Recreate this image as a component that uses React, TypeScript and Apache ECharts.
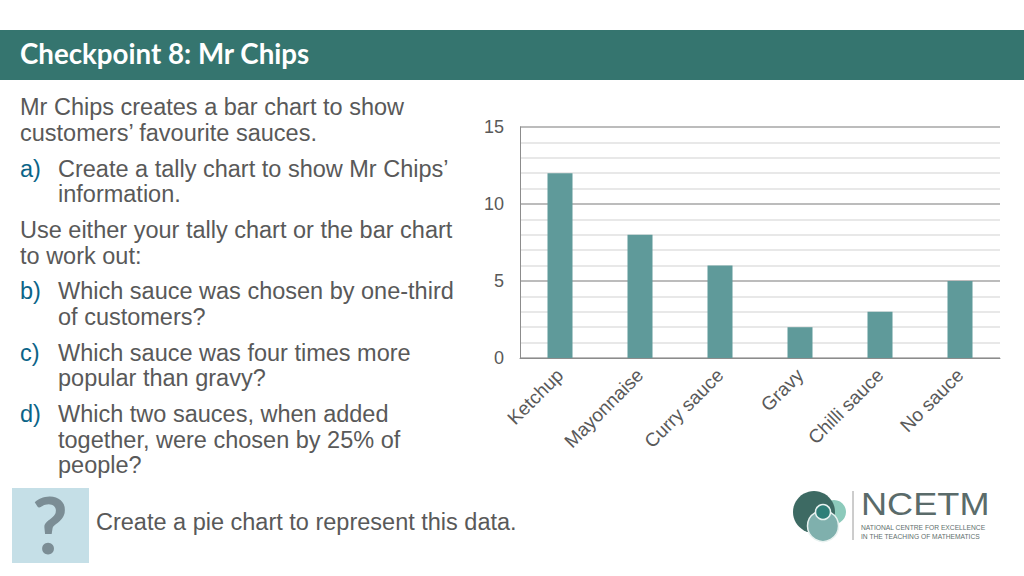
import React, { useEffect, useRef } from "react";
import * as echarts from "echarts";

const categories = ["Ketchup", "Mayonnaise", "Curry sauce", "Gravy", "Chilli sauce", "No sauce"];
const customers = [12, 8, 6, 2, 3, 5];
const titleText = "Checkpoint 8: Mr Chips";
const promptText = "Create a pie chart to represent this data.";
const bodyLines: [string, string, number, boolean][] = [
  ["", "Mr Chips creates a bar chart to show", 107, false],
  ["", "customers’ favourite sauces.", 133, false],
  ["a)", "Create a tally chart to show Mr Chips’", 169, true],
  ["", "information.", 194, true],
  ["", "Use either your tally chart or the bar chart", 230, false],
  ["", "to work out:", 256, false],
  ["b)", "Which sauce was chosen by one-third", 291, true],
  ["", "of customers?", 317, true],
  ["c)", "Which sauce was four times more", 353, true],
  ["", "popular than gravy?", 378, true],
  ["d)", "Which two sauces, when added", 414, true],
  ["", "together, were chosen by 25% of", 440, true],
  ["", "people?", 465, true],
];

const SANS = "Liberation Sans, Arial, sans-serif";
const GREY = "#595959";

function t(text: string, x: number, y: number, fontSize: number, fill: string, extra: any = {}, el: any = {}) {
  return {
    type: "text",
    x,
    y,
    silent: true,
    ...el,
    style: { text, fill, fontSize, fontFamily: SANS, verticalAlign: "middle", ...extra },
  };
}

export default function App() {
  const ref = useRef<HTMLDivElement>(null);
  useEffect(() => {
    const chart = echarts.init(ref.current!, undefined, { renderer: "svg" });
    const body: any[] = [];
    bodyLines.forEach(([mark, text, y, indent]) => {
      if (mark) body.push(t(mark, 20, y, 23.5, "#0b6488"));
      body.push(t(text, indent ? 58 : 20, y, 23.5, GREY));
    });
    chart.setOption({
      animation: false,
      backgroundColor: "#ffffff",
      grid: { left: 520, right: 24, top: 127, bottom: 218, containLabel: false },
      xAxis: {
        type: "category",
        data: categories,
        axisTick: { show: false },
        axisLine: { lineStyle: { color: "#8c8c8c", width: 1 } },
        axisLabel: {
          rotate: 45,
          interval: 0,
          margin: 14,
          color: GREY,
          fontSize: 19,
          fontFamily: SANS,
        },
      },
      yAxis: {
        type: "value",
        min: 0,
        max: 15,
        interval: 5,
        axisLine: { show: true, lineStyle: { color: "#8c8c8c", width: 1 } },
        axisTick: { show: false },
        axisLabel: { color: GREY, fontSize: 18, fontFamily: SANS, margin: 16 },
        splitLine: { show: true, lineStyle: { color: "#a6a6a6", width: 1.5 } },
        minorTick: { show: false, splitNumber: 5 },
        minorSplitLine: { show: true, lineStyle: { color: "#e0e0e0", width: 1.5 } },
      },
      series: [
        {
          type: "bar",
          data: customers,
          barWidth: 25,
          itemStyle: { color: "#5f9a9a" },
        },
      ],
      graphic: [
        { type: "rect", silent: true, shape: { x: 0, y: 30, width: 1024, height: 50 }, style: { fill: "#35756f" } },
        t(titleText, 20, 53.5, 27.7, "#ffffff", { fontWeight: "bold", fontFamily: "Lato, sans-serif" }),
        ...body,
        { type: "rect", silent: true, shape: { x: 12, y: 488, width: 77, height: 75 }, style: { fill: "#c5dfe7" } },
        t("?", 50, 524, 78, "#7b8d95", { fontWeight: "bold", align: "center", fontFamily: "Lato, sans-serif" }),
        t(promptText, 96, 522, 23.5, GREY),
        { type: "circle", silent: true, shape: { cx: 834, cy: 512, r: 12 }, style: { fill: "#8ccabb" } },
        { type: "circle", silent: true, shape: { cx: 814, cy: 512, r: 21 }, style: { fill: "#3d6a63" } },
        { type: "circle", silent: true, shape: { cx: 823, cy: 526, r: 15.5 }, style: { fill: "#7fb0ad", stroke: "#e8f2f0", lineWidth: 1.5 } },
        { type: "circle", silent: true, shape: { cx: 823, cy: 512, r: 7.5 }, style: { fill: "#2f7f78", stroke: "#e8f2f0", lineWidth: 1.5 } },
        { type: "line", silent: true, shape: { x1: 853, y1: 491, x2: 853, y2: 540 }, style: { stroke: "#9a9a9a", lineWidth: 1 } },
        t("NCETM", 861, 504, 32, "#5a6b6a", {}, { scaleX: 1.13 }),
        t("NATIONAL CENTRE FOR EXCELLENCE", 861, 527, 6.7, "#5f6f6e"),
        t("IN THE TEACHING OF MATHEMATICS", 861, 536.5, 6.7, "#5f6f6e"),
      ],
    });
    return () => chart.dispose();
  }, []);
  return <div ref={ref} style={{ position: "fixed", left: 0, top: 0, width: 1024, height: 576 }} />;
}
